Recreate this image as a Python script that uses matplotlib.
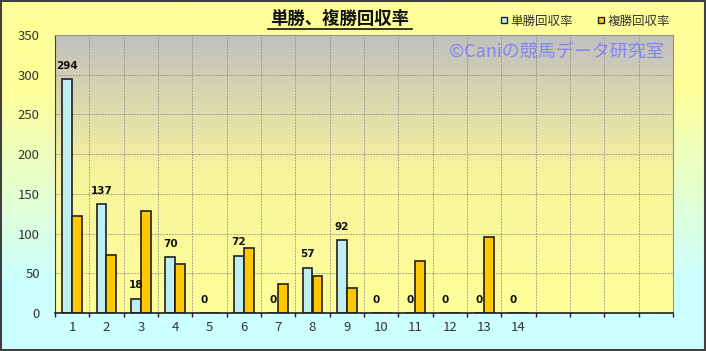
import matplotlib.pyplot as plt
import numpy as np
from matplotlib.colors import LinearSegmentedColormap
from matplotlib.lines import Line2D

plt.rcParams['font.family'] = ['Noto Sans CJK JP', 'DejaVu Sans']

# data
categories = [str(i) for i in range(1, 15)] + ["", "", "", ""]
tansho = [294, 137, 18, 70, 0, 72, 0, 57, 92, 0, 0, 0, 0, 0]
fukusho = [122, 73, 128, 62, 0, 82, 36, 46, 32, 0, 66, 0, 96, 0]
series_names = ["単勝回収率", "複勝回収率"]
title = "単勝、複勝回収率"
watermark = "©Caniの競馬データ研究室"

W, H = 706, 351
fig = plt.figure(figsize=(W / 100, H / 100), dpi=100)

# figure background: yellow at top -> light cyan at bottom
bg = fig.add_axes([0, 0, 1, 1], zorder=-2)
bg_cmap = LinearSegmentedColormap.from_list(
    "bg", [(0, "#CCFFFF"), (0.2, "#CCFFFF"), (0.75, "#FFFF99"), (1, "#FFFF99")])
bg.imshow(np.linspace(0, 1, 256).reshape(-1, 1), cmap=bg_cmap, aspect="auto",
          extent=[0, 1, 0, 1], origin="lower")
bg.set_xlim(0, 1)
bg.set_ylim(0, 1)
bg.axis("off")
bg.add_patch(plt.Rectangle((0.001, 0.002), 0.997, 0.995, fill=False, edgecolor="#404040", lw=1.5))

ax = fig.add_axes([55 / W, 1 - 313 / H, 618 / W, 278 / H])
n = len(categories)
x = np.arange(n)

# plot area gradient: gray top -> pale yellow bottom
pa_cmap = LinearSegmentedColormap.from_list("pa", ["#FFFF99", "#F8F49C", "#C0C0C0"])
ax.imshow(np.linspace(0, 1, 256).reshape(-1, 1), cmap=pa_cmap, aspect="auto",
          extent=[-0.5, n - 0.5, 0, 350], origin="lower", zorder=0)

w = 0.29
xs = x[:len(tansho)]
ax.bar(xs - w / 2, tansho, w, color="#BFEFF2", edgecolor="#202020", lw=1.2, zorder=3)
ax.bar(xs + w / 2, fukusho, w, color="#FFC800", edgecolor="#202020", lw=1.2, zorder=3)

for xi, v in zip(xs, tansho):
    ax.annotate(str(v), (xi - w / 2, v), xytext=(0, 6), textcoords="offset points",
                ha="center", va="bottom", fontsize=7.5, fontweight="bold",
                family="DejaVu Sans", color="#111111", zorder=4)

ax.set_xlim(-0.5, n - 0.5)
ax.set_ylim(0, 350)
ax.set_yticks(range(0, 351, 50))
ax.set_xticks(x)
ax.set_xticklabels(categories)
ax.set_xticks(np.arange(-0.5, n, 1), minor=True)
ax.tick_params(axis="both", which="major", length=0, labelsize=9.5, labelcolor="#333333")
ax.tick_params(axis="x", which="major", pad=6)
ax.tick_params(axis="x", which="minor", length=3, width=1, color="#202020", direction="out")
ax.tick_params(axis="y", pad=11)
ax.grid(which="minor", axis="x", color="#8C8C84", ls=(0, (2, 1.5)), lw=0.6, zorder=1)
ax.grid(which="major", axis="y", color="#8C8C84", ls=(0, (2, 1.5)), lw=0.6, zorder=1)
ax.grid(which="major", axis="x", visible=False)
for s in ["top", "right"]:
    ax.spines[s].set_color("#909090")
ax.spines["left"].set_color("#404040")
ax.spines["bottom"].set_color("#202020")
ax.spines["bottom"].set_linewidth(1.2)
ax.spines["bottom"].set_zorder(5)

ax.text(0.985, 0.94, watermark, transform=ax.transAxes, ha="right", va="center",
        fontsize=13, color="#7070FF", alpha=0.75, zorder=6)

# title with underline
fig.text(340 / W, 1 - 19 / H, title, ha="center", va="center", fontsize=12.5,
         fontweight="bold", color="#111111")
fig.add_artist(Line2D([268 / W, 412 / W], [1 - 29 / H, 1 - 29 / H], color="#111111", lw=1.2))

handles = [Line2D([], [], marker="s", ls="", markersize=5, markerfacecolor=c,
                  markeredgecolor="#202020", markeredgewidth=1)
           for c in ["#BFEFF2", "#FFC800"]]
fig.legend(handles, series_names, loc="center", bbox_to_anchor=(585 / W, 1 - 21 / H),
           ncol=2, frameon=False, fontsize=9, handlelength=0.6, handletextpad=0.2,
           columnspacing=2.0, labelcolor="#333333")

fig.savefig("out.png", dpi=100)
